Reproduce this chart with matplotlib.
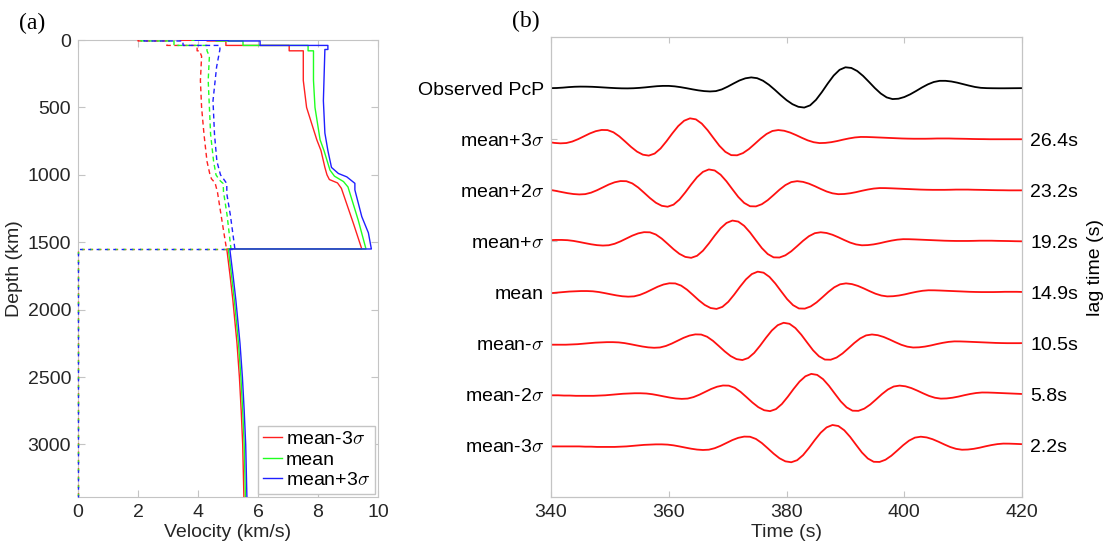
import numpy as np
import matplotlib
matplotlib.use('Agg')
import matplotlib.pyplot as plt

plt.rcParams['font.family'] = ['Liberation Sans', 'DejaVu Sans']
plt.rcParams['mathtext.fontset'] = 'cm'

# ---- panel (a): velocity models (depth km, velocity km/s) ----
red_vp_depth = [0, 2, 2, 7, 7, 40, 40, 80, 80, 300, 500, 740, 820, 945, 1000, 1035, 1060, 1100, 1360, 1550,
                1550, 1750, 1925, 2250, 2500, 2750, 3000, 3390]
red_vp = [3.4, 3.4, 4.3, 4.3, 4.93, 4.93, 7.04, 7.04, 7.51, 7.51, 7.62, 7.96, 8.1, 8.23, 8.3, 8.38, 8.65, 8.78, 9.18, 9.46,
          4.96, 5.07, 5.16, 5.3, 5.38, 5.44, 5.49, 5.53]
green_vp_depth = [0, 2, 2, 7, 7, 40, 40, 80, 80, 300, 500, 740, 820, 965, 1010, 1050, 1090, 1335, 1550,
                  1550, 1750, 1925, 2250, 2500, 2750, 3000, 3390]
green_vp = [3.8, 3.8, 4.6, 4.6, 5.5, 5.5, 7.67, 7.67, 7.85, 7.85, 7.9, 8.07, 8.2, 8.4, 8.55, 8.85, 9.0, 9.34, 9.6,
            5.01, 5.12, 5.21, 5.35, 5.43, 5.49, 5.54, 5.58]
blue_vp_depth = [0, 2, 2, 7, 7, 40, 40, 70, 70, 450, 690, 820, 945, 990, 1015, 1063, 1112, 1310, 1430, 1550,
                 1550, 1750, 1925, 2250, 2500, 2750, 3000, 3390]
blue_vp = [3.9, 3.9, 5.0, 5.0, 6.07, 6.07, 8.33, 8.33, 8.23, 8.18, 8.23, 8.33, 8.45, 8.68, 8.96, 9.23, 9.23, 9.46, 9.68, 9.78,
           5.06, 5.17, 5.26, 5.4, 5.48, 5.54, 5.59, 5.63]

red_vs_depth = [0, 7, 7, 40, 40, 80, 80, 120, 300, 500, 700, 900, 1000, 1030, 1060, 1130, 1300, 1550, 1550, 3390]
red_vs = [2.0, 2.0, 2.96, 2.96, 3.97, 3.97, 4.05, 4.12, 4.08, 4.12, 4.2, 4.3, 4.4, 4.45, 4.57, 4.65, 4.77, 4.95, 0, 0]
green_vs_depth = [0, 7, 7, 40, 40, 80, 80, 120, 300, 500, 700, 900, 1000, 1040, 1065, 1125, 1300, 1550, 1550, 3390]
green_vs = [2.1, 2.1, 3.2, 3.2, 4.3, 4.3, 4.3, 4.38, 4.34, 4.38, 4.42, 4.52, 4.6, 4.72, 4.84, 4.85, 4.97, 5.1, 0, 0]
blue_vs_depth = [0, 7, 7, 40, 40, 70, 70, 200, 450, 700, 900, 1000, 1030, 1065, 1140, 1300, 1550, 1550, 3390]
blue_vs = [2.2, 2.2, 3.5, 3.5, 4.73, 4.73, 4.73, 4.62, 4.5, 4.55, 4.63, 4.75, 4.85, 4.96, 4.96, 5.08, 5.23, 0, 0]

model_names = ['mean-3$\\sigma$', 'mean', 'mean+3$\\sigma$']
model_colors = ['#ff2020', '#20ff20', '#2020ff']

# ---- panel (b): waveforms ----
trace_labels = ['mean-3$\\sigma$', 'mean-2$\\sigma$', 'mean-$\\sigma$', 'mean',
                'mean+$\\sigma$', 'mean+2$\\sigma$', 'mean+3$\\sigma$', 'Observed PcP']
lag_times = [2.2, 5.8, 10.5, 14.9, 19.2, 23.2, 26.4]   # bottom to top
lag_labels = ['2.2s', '5.8s', '10.5s', '14.9s', '19.2s', '23.2s', '26.4s']

# synthetic PcP wavelet, aligned to the observed arrival (1 s samples)
wave_time = np.arange(342, 448)
wave_amp = [-0.01, -0.01, -0.01, -0.01, -0.01, -0.01, -0.015, -0.015, -0.02, -0.02,
            -0.02, -0.02, -0.015, -0.01, 0.0, 0.01, 0.02, 0.025, 0.03, 0.03,
            0.025, 0.011, -0.01, -0.033, -0.055, -0.072, -0.08, -0.074, -0.045, 0.002,
            0.058, 0.114, 0.158, 0.182, 0.179, 0.136, 0.056, -0.046, -0.151, -0.242,
            -0.302, -0.32, -0.28, -0.181, -0.04, 0.115, 0.258, 0.362, 0.409, 0.389,
            0.306, 0.176, 0.022, -0.129, -0.246, -0.311, -0.314, -0.271, -0.192, -0.091,
            0.013, 0.103, 0.162, 0.18, 0.166, 0.131, 0.082, 0.028, -0.022, -0.058,
            -0.075, -0.071, -0.057, -0.035, -0.008, 0.016, 0.035, 0.045, 0.044, 0.04,
            0.035, 0.03, 0.025, 0.02, 0.015, 0.012, 0.01, 0.01, 0.01, 0.012,
            0.015, 0.015, 0.015, 0.012, 0.01, 0.008, 0.005, 0.003, 0.002, 0.0,
            0, 0, 0, 0, 0, 0]

obs_time = np.arange(340, 421)
obs_amp = [0, 0.003, 0.01, 0.02, 0.027, 0.03, 0.029, 0.026, 0.02, 0.013,
           0.006, 0.0, -0.004, -0.005, -0.002, 0.005, 0.015, 0.027, 0.038, 0.044,
           0.044, 0.035, 0.019, -0.001, -0.023, -0.043, -0.058, -0.065, -0.058, -0.025,
           0.029, 0.091, 0.15, 0.192, 0.21, 0.195, 0.145, 0.066, -0.032, -0.137,
           -0.235, -0.314, -0.365, -0.38, -0.337, -0.229, -0.077, 0.091, 0.246, 0.358,
           0.408, 0.395, 0.335, 0.239, 0.122, 0.001, -0.105, -0.181, -0.214, -0.207,
           -0.174, -0.121, -0.056, 0.013, 0.074, 0.12, 0.143, 0.143, 0.13, 0.107,
           0.078, 0.049, 0.023, 0.006, 0.0, -0.002, -0.003, -0.003, -0.002, -0.001,
           0.0]

spine_col = '#c4c4c4'
text_col = '#262626'
fs = 14

fig = plt.figure(figsize=(11.13, 5.56), dpi=100)

# (a)
axa = fig.add_axes([0.0701, 0.1061, 0.2695, 0.8219])
vp_sets = [(red_vp_depth, red_vp), (green_vp_depth, green_vp), (blue_vp_depth, blue_vp)]
vs_sets = [(red_vs_depth, red_vs), (green_vs_depth, green_vs), (blue_vs_depth, blue_vs)]
handles = []
for k, ((dp, vp), (ds, vs), c, name) in enumerate(zip(vp_sets, vs_sets, model_colors, model_names)):
    h, = axa.plot(vp, dp, color=c, lw=1.0, label=name, zorder=3)
    # mantle part of Vs
    axa.plot(vs[:-2], ds[:-2], color=c, lw=1.0, dashes=(3.5, 2.5), zorder=3)
    # core part (overlapping for all models) - interleave the dashes
    axa.plot(vs[-3:], ds[-3:], color=c, lw=1.0, linestyle=(k * 2.0, (2.0, 4.0)),
             zorder=4, clip_on=False)
    handles.append(h)
axa.set_xlim(0, 10)
axa.set_ylim(3390, 0)
axa.set_xticks([0, 2, 4, 6, 8, 10])
axa.set_yticks([0, 500, 1000, 1500, 2000, 2500, 3000])
axa.set_xlabel('Velocity (km/s)', fontsize=fs, color=text_col, labelpad=2)
axa.set_ylabel('Depth (km)', fontsize=fs, color=text_col, labelpad=3)
axa.tick_params(direction='in', length=5, color=spine_col, labelcolor=text_col,
                labelsize=fs, top=True, right=True, pad=5)
for s in axa.spines.values():
    s.set_color(spine_col)
leg = axa.legend(handles=handles, loc='lower right', fontsize=fs, handlelength=1.0,
                 handletextpad=0.2, labelspacing=0.15, borderpad=0.25,
                 borderaxespad=0.15, fancybox=False, framealpha=1)
leg.get_frame().set_edgecolor(spine_col)
leg.get_frame().set_linewidth(1.0)

# (b)
axb = fig.add_axes([0.4951, 0.1061, 0.4232, 0.8273])
axb.plot(obs_time, 8 + np.array(obs_amp), color='black', lw=1.3)
for i, lag in enumerate(lag_times):
    axb.plot(wave_time - lag, (i + 1) + np.array(wave_amp), color='#ff1010', lw=1.3)
axb.set_xlim(340, 420)
axb.set_ylim(0, 9)
axb.set_xticks([340, 360, 380, 400, 420])
axb.set_yticks(range(1, 9))
axb.set_yticklabels(trace_labels)
axb.set_xlabel('Time (s)', fontsize=fs, color=text_col, labelpad=2)
axb.tick_params(direction='in', length=4, color=spine_col, labelcolor=text_col,
                labelsize=fs, top=True, pad=5)
axb.tick_params(axis='y', colors='black', color=spine_col)
for s in axb.spines.values():
    s.set_color(spine_col)

ax2 = axb.twinx()
ax2.set_ylim(0, 9)
ax2.set_yticks(range(1, 8))
ax2.set_yticklabels(lag_labels)
ax2.tick_params(axis='y', length=0, labelsize=fs, labelcolor='black', pad=6)
ax2.set_ylabel('lag time (s)', fontsize=fs, color='black', labelpad=6)
for s in ax2.spines.values():
    s.set_color(spine_col)

fig.text(0.029, 0.958, '(a)', fontsize=17, family='Liberation Serif', ha='center', va='center')
fig.text(0.4726, 0.962, '(b)', fontsize=17, family='Liberation Serif', ha='center', va='center')

fig.savefig('out.png', dpi=100)
